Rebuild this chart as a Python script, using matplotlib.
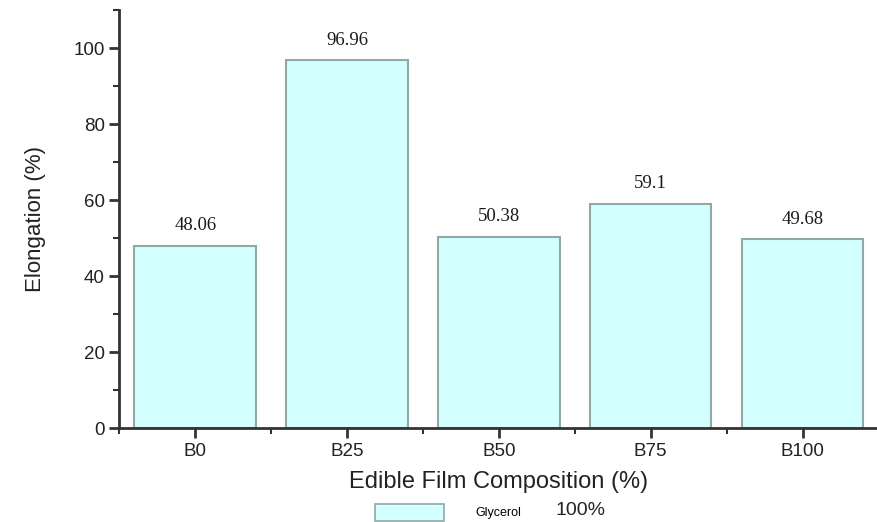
import matplotlib.pyplot as plt
from matplotlib.patches import Patch
from matplotlib.ticker import MultipleLocator

labels = ['B0', 'B25', 'B50', 'B75', 'B100']
elong = [48.06, 96.96, 50.38, 59.1, 49.68]
val_text = ['48.06', '96.96', '50.38', '59.1', '49.68']

fig = plt.figure(figsize=(8.77, 5.22), dpi=100)
ax = fig.add_axes([0.136, 0.18, 0.864, 0.80])

x = range(len(labels))
ax.bar(x, elong, width=0.8, color='#d4ffff', edgecolor='#8fa8a8', linewidth=1.5)
for i, v in enumerate(elong):
    ax.text(i, v + 3, val_text[i], ha='center', va='bottom',
            fontsize=13.5, family='Liberation Serif', color='#1a1a1a')

ax.set_xlim(-0.5, 4.49)
ax.set_ylim(0, 110)
ax.set_xticks(list(x))
ax.set_xticklabels(labels)
ax.xaxis.set_minor_locator(MultipleLocator(1, offset=0.5))
ax.yaxis.set_major_locator(MultipleLocator(20))
ax.yaxis.set_minor_locator(MultipleLocator(10))

for s in ['top', 'right']:
    ax.spines[s].set_visible(False)
for s in ['left', 'bottom']:
    ax.spines[s].set_linewidth(2)
    ax.spines[s].set_color('#333333')

ax.tick_params(axis='both', which='major', length=7, width=2, color='#333333',
               labelsize=13.5, labelcolor='#222222')
ax.tick_params(axis='both', which='minor', length=4, width=1.5, color='#333333')
for t in ax.get_xticklabels() + ax.get_yticklabels():
    t.set_family('Liberation Sans')

ax.set_ylabel('Elongation (%)', fontsize=16, family='Liberation Sans',
              color='#222222', labelpad=20)
ax.set_xlabel('Edible Film Composition (%)', fontsize=17, family='Liberation Sans',
              color='#222222', labelpad=8)

handle = Patch(facecolor='#d4ffff', edgecolor='#8fa8a8', linewidth=1.2)
leg = fig.legend([handle], ['Glycerol'], loc='lower left',
                 bbox_to_anchor=(0.415, -0.02), frameon=False,
                 handlelength=5.5, handleheight=1.8, handletextpad=2.5,
                 prop={'family': 'Liberation Sans', 'size': 9})
fig.text(0.633, 0.022, '100%', fontsize=14, family='Liberation Sans',
         color='#222222', va='center')

fig.savefig('out.png', dpi=100)
